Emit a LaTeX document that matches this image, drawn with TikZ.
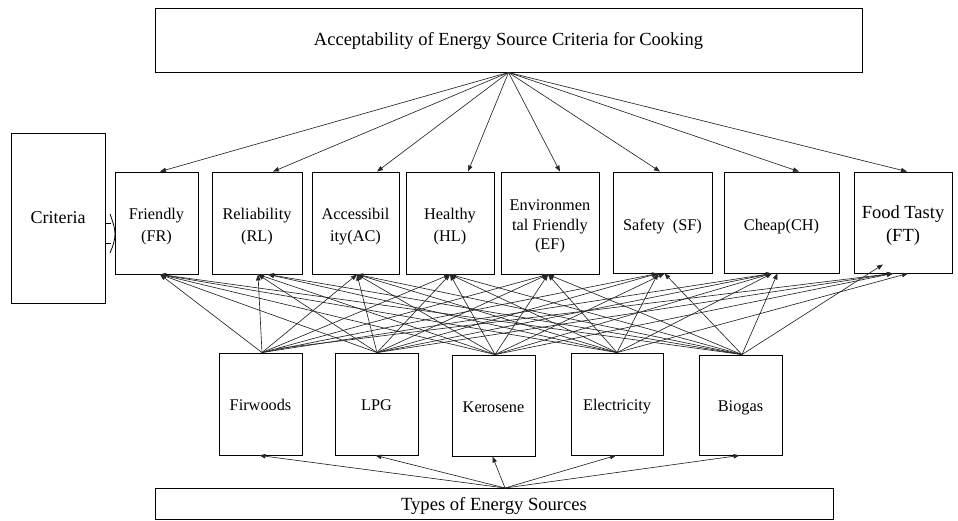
\documentclass[tikz,border=0pt]{standalone}
\usepackage{fontspec}
\setmainfont{Liberation Serif}
\newfontfamily\tnr{Liberation Serif}
\usetikzlibrary{arrows.meta}
\tikzset{
  box/.style={draw=black, line width=0.9pt, inner sep=0pt, align=center, font=\tnr\fontsize{16.3}{22}\selectfont},
  twoline/.style={text height=37pt, text depth=0pt},
  oneline/.style={text height=15pt, text depth=0pt},
  altline/.style={text height=13pt, text depth=0pt},
  arr/.style={draw=black!85, line width=0.65pt, -{Triangle[length=6pt,width=4.5pt]}},
}
\begin{document}
\begin{tikzpicture}[x=1pt,y=-1pt]
\useasboundingbox (0,0) rectangle (958,520);
% goal
\node[box, minimum width=707, minimum height=64, text height=14pt, text depth=3.5pt, font=\tnr\fontsize{18.5}{22}\selectfont] (goal) at (508.5,40) {Acceptability of Energy Source Criteria for Cooking};
% criteria label box
\node[box, minimum width=94, minimum height=170, font=\tnr\fontsize{18}{22}\selectfont] (crit) at (58,218) {Criteria};
% criteria
\node[box, twoline, minimum width=83, minimum height=102] (FR) at (156.5,223) {Friendly\\(FR)};
\node[box, twoline, minimum width=90, minimum height=102] (RL) at (257,223) {Reliability\\(RL)};
\node[box, twoline, minimum width=87, minimum height=102] (AC) at (355.5,223) {Accessibil\\ity(AC)};
\node[box, twoline, minimum width=88, minimum height=102] (HL) at (450,223) {Healthy\\(HL)};
\node[box, minimum width=98, minimum height=102, text height=53pt, text depth=0pt, font=\tnr\fontsize{16.3}{19.5}\selectfont] (EF) at (550,223) {Environmen\\tal Friendly\\(EF)};
\node[box, oneline, minimum width=99, minimum height=101] (SF) at (662.5,222.5) {Safety\ \ (SF)};
\node[box, oneline, minimum width=115, minimum height=101] (CH) at (781.5,222.5) {Cheap(CH)};
\node[box, minimum width=98, minimum height=101, text height=38.8pt, text depth=0pt, font=\tnr\fontsize{18.5}{23}\selectfont] (FT) at (903,222.5) {Food Tasty\\(FT)};
% alternatives
\node[box, altline, minimum width=83, minimum height=102] (FW) at (260.5,404) {Firwoods};
\node[box, altline, minimum width=83, minimum height=102] (LP) at (376.5,404) {LPG};
\node[box, altline, minimum width=83, minimum height=101] (KE) at (493.5,405.5) {Kerosene};
\node[box, altline, minimum width=92, minimum height=102] (EL) at (617,404) {Electricity};
\node[box, altline, minimum width=83, minimum height=100] (BG) at (740.5,405) {Biogas};
% types
\node[box, minimum width=678, minimum height=31, text height=14.3pt, text depth=0pt, font=\tnr\fontsize{18.6}{22}\selectfont] (types) at (494,503.5) {Types of Energy Sources};

% brace symbol between Criteria and Friendly
\draw[line width=0.8pt] (110,214) .. controls (113,222) and (115,228) .. (115,234) .. controls (115,240) and (113,246) .. (110,253);
\draw[line width=0.8pt] (106,223) -- (111,223);
\draw[line width=0.8pt] (106,243) -- (111,243);

% goal to criteria
\draw[arr] (goal.south) -- ([xshift=3.5]FR.north);
\draw[arr] (goal.south) -- ([xshift=16]RL.north);
\draw[arr] (goal.south) -- ([xshift=21.5]AC.north);
\draw[arr] (goal.south) -- ([xshift=18]HL.north);
\draw[arr] (goal.south) -- ([xshift=10]EF.north);
\draw[arr] (goal.south) -- ([xshift=-2.5]SF.north);
\draw[arr] (goal.south) -- ([xshift=17.5]CH.north);
\draw[arr] (goal.south) -- ([xshift=4]FT.north);

% end points at criteria bottoms
\coordinate (FRb) at ([xshift=3.5]FR.south);
\coordinate (RLb) at ([xshift=1]RL.south);
\coordinate (RLc) at ([xshift=11]RL.south);
\coordinate (ACb) at ([xshift=1.5]AC.south);
\coordinate (HLb) at ([xshift=0]HL.south);
\coordinate (EFb) at ([xshift=-2]EF.south);
\coordinate (SFb) at ([xshift=-4.5]SF.south);
\coordinate (SFc) at ([xshift=2]SF.south);
\coordinate (CHb) at ([xshift=-9.5]CH.south);
\coordinate (CHc) at ([xshift=-4]CH.south);
\coordinate (FTb) at ([xshift=-10]FT.south);
\coordinate (FTc) at ([xshift=5]FT.south);
\coordinate (FTd) at ([xshift=-20,yshift=9]FT.south);
% start points at alternative tops
\coordinate (FWt) at ([xshift=1.5]FW.north);
\coordinate (FWs) at ([xshift=17.5,yshift=4]FW.north);
\coordinate (LPt) at ([xshift=0.5]LP.north);
\coordinate (KEt) at ([xshift=1.5]KE.north);
\coordinate (ELt) at ([xshift=0]EL.north);
\coordinate (BGt) at ([xshift=1.5]BG.north);

% alternatives to criteria
\foreach \c in {FRb,RLb,ACb,HLb,EFb,SFb,CHb} \draw[arr] (FWt) -- (\c);
\draw[arr] (FWs) -- (FTb);
\foreach \c in {FRb,RLb,ACb,HLb,EFb,SFb,CHb,FTb} \draw[arr] (LPt) -- (\c);
\foreach \c in {FRb,RLb,ACb,HLb,EFb,SFc,CHb,FTb} \draw[arr] (KEt) -- (\c);
\foreach \c in {FRb,RLc,ACb,HLb,EFb,SFb,CHb,FTc} \draw[arr] (ELt) -- (\c);
\foreach \c in {FRb,RLc,ACb,HLb,EFb,SFc,CHc,FTd} \draw[arr] (BGt) -- (\c);

% types to alternatives
\coordinate (tapex) at (505,488);
\foreach \a in {FW,LP,KE,EL,BG} \draw[arr] (tapex) -- ([xshift=-1]\a.south);
\end{tikzpicture}
\end{document}
